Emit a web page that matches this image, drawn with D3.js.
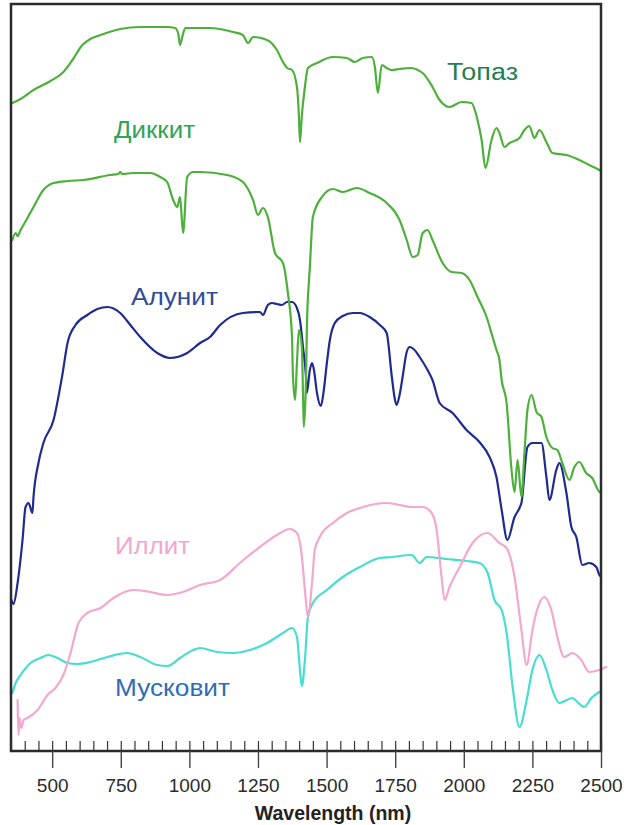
<!DOCTYPE html>
<html>
<head>
<meta charset="utf-8">
<script src="https://cdn.jsdelivr.net/npm/d3@7/dist/d3.min.js"></script>
<style>
  html, body { margin: 0; padding: 0; background: #fff; }
  svg { display: block; }
  text { font-family: "Liberation Sans", Arial, sans-serif; }
</style>
</head>
<body>
<svg id="chart" width="626" height="825"></svg>
<script>
// Reflectance spectra (stacked with offsets), wavelength in nm vs relative reflectance units
const topaz = [
  [355,129.4],[385,130.2],[432,132],[494,133.8],[541,135.6],[574,138],[610,141],[639,142.2],
  [676,143],[748,144.2],[821,144.6],[919,144.6],[948,144.4],[959,143.4],[966,141],[974,142.6],
  [985,144.4],[1075,144.4],[1159,143.6],[1195,143],[1214,141.4],[1232,142.6],[1283,142],
  [1319,140],[1341,137.6],[1356,136.4],[1374,136],[1392,132.6],[1399,127],[1403,121.6],
  [1410,127],[1421,132.6],[1432,136.4],[1465,137.4],[1523,138.6],[1574,138.4],[1603,137.6],
  [1632,138.4],[1665,138.6],[1676,136.6],[1687,131.4],[1701,137],[1719,136.4],[1737,136],
  [1766,136.2],[1803,136.4],[1850,135.4],[1886,132.6],[1912,130],[1948,128.6],[1992,129.6],
  [2028,129.4],[2050,126],[2065,122],[2079,116.4],[2101,122],[2119,124.4],[2130,123.4],
  [2148,120.6],[2167,121.4],[2203,122.4],[2221,124],[2239,124.8],[2257,122.4],[2276,124],
  [2301,121.6],[2323,119.4],[2374,119],[2421,118],[2457,117],[2494,116],[2500,115.8]
];

const dickite = [
  [355,102],[367,103.4],[374,102.8],[385,104],[410,106.4],[432,108.6],[468,112],[505,113.4],
  [556,113.8],[614,114],[712,115],[741,115.2],[748,115.6],[756,115.2],[796,115.4],[857,115.4],
  [894,114.6],[919,113.6],[941,110],[956,108.6],[966,110.6],[977,103.4],[992,114.6],[1014,115.6],
  [1039,115.6],[1137,115],[1195,113.6],[1232,110],[1250,107],[1268,108.4],[1286,106.6],
  [1312,99.4],[1341,97.4],[1359,91.4],[1374,82.6],[1377,75.4],[1385,70],[1392,77.4],[1399,84],
  [1410,80.6],[1414,71.4],[1417,64.6],[1425,74],[1428,84],[1436,94],[1439,96.6],[1450,106.6],
  [1483,110.6],[1523,112.2],[1559,111.6],[1610,112.4],[1657,111.4],[1719,109.4],[1766,106],
  [1792,102],[1814,98.6],[1832,99],[1850,103.4],[1868,104],[1886,102],[1923,97.4],[1955,95.6],
  [1992,95.4],[2021,94],[2050,90.6],[2083,86.6],[2105,82.6],[2119,80],[2130,78],[2138,74],
  [2156,69.4],[2174,56],[2185,51.6],[2196,58],[2210,50.6],[2221,59.4],[2232,68],[2247,71],
  [2265,67.6],[2283,66.6],[2301,62.6],[2323,60.4],[2341,60],[2359,57.4],[2385,54],[2403,56.6],
  [2421,57.6],[2446,55.4],[2468,54.4],[2494,51.6],[2500,51.4]
];

const alunite = [
  [352,30],[359,29.2],[374,33.4],[392,42],[403,48.6],[414,49.4],[428,47.4],[432,50.6],[450,57.4],
  [468,61.4],[505,66],[537,75],[556,81.4],[585,85],[628,87],[665,88.2],[701,88.6],[748,87.4],
  [785,85],[821,82.6],[883,79.4],[930,78.4],[992,79.4],[1039,81.4],[1075,82.6],[1112,85],
  [1195,87.4],[1257,87.6],[1268,87],[1286,89],[1301,89.4],[1319,89.2],[1337,89],[1356,89.6],
  [1374,89.6],[1392,88.4],[1403,86],[1414,80.6],[1425,74.6],[1428,71.4],[1439,76],[1447,77.4],
  [1454,76],[1465,71.4],[1479,68.8],[1490,72],[1501,77.4],[1512,82],[1530,85.4],[1559,86.8],
  [1596,87.4],[1621,87.4],[1657,86.6],[1694,85],[1719,83.4],[1737,75],[1748,70.4],[1755,69],
  [1766,71],[1777,74.6],[1792,79.6],[1803,80.6],[1817,80.2],[1839,78.6],[1868,76],[1886,74],
  [1912,69.4],[1959,67.4],[2010,64],[2057,61.6],[2094,58.6],[2119,54.6],[2138,48],[2159,42],
  [2185,46.6],[2203,48.4],[2210,49.4],[2232,60.6],[2250,61.4],[2283,61.4],[2301,54.6],
  [2312,50],[2337,56],[2348,57.4],[2374,51.4],[2392,44.6],[2410,42.6],[2432,37],[2457,37.4],
  [2483,36.6],[2494,35],[2500,34.6]
];

const illite = [
  [374,10],[377,3],[381,6.4],[388,4.4],[396,6],[410,6.4],[447,8],[483,11],[512,12.4],[541,15],
  [567,19.4],[596,25.4],[628,27.4],[676,28.4],[723,30.4],[796,32],[857,31.6],[919,31],
  [977,31.6],[1039,33],[1112,34],[1184,37.4],[1257,40.6],[1319,43],[1366,44.2],[1392,43.4],
  [1410,38.6],[1421,32],[1432,26.6],[1447,33.4],[1457,40],[1475,42.6],[1523,45.4],[1574,47.4],
  [1632,48.6],[1719,49.4],[1766,49],[1814,48.6],[1850,48.6],[1883,47.4],[1901,44],[1919,34.6],
  [1930,30],[1948,32.6],[1985,36.6],[2032,41.4],[2087,43.4],[2130,41.4],[2156,40.4],
  [2185,34.6],[2210,24],[2229,17],[2250,24],[2276,29.4],[2294,30.6],[2319,28],[2341,22.6],
  [2366,18.6],[2396,19.4],[2428,18],[2457,15.6],[2494,16],[2519,16.6]
];

const muscovite = [
  [355,11.4],[367,13.4],[385,15],[421,17.4],[457,18.4],[486,19],[519,18.4],[556,17.4],
  [592,17.2],[639,17.6],[701,18.6],[774,19.4],[821,18.6],[883,17],[919,16.8],[966,18.4],
  [1014,20],[1039,20.4],[1101,19.6],[1159,19.4],[1221,20],[1283,21.4],[1341,23.4],[1374,24.4],
  [1392,22.6],[1403,16],[1410,12.8],[1421,18],[1432,26.6],[1450,29.4],[1501,32],[1559,34.6],
  [1621,36.6],[1694,38.4],[1741,38.6],[1766,38.8],[1810,39],[1839,37.4],[1865,38.6],[1937,38.2],
  [2010,37.8],[2057,37.4],[2087,35.4],[2112,30],[2138,28],[2156,23.4],[2178,12.6],[2203,4.6],
  [2229,10],[2250,16],[2276,19],[2301,16],[2323,12],[2348,9.4],[2396,10.4],[2414,9.6],
  [2439,8.6],[2465,10.4],[2494,11.6]
];

const seriesNames = ["Топаз", "Диккит", "Алунит", "Иллит", "Мусковит"];
const majorTicks = [500, 750, 1000, 1250, 1500, 1750, 2000, 2250, 2500];
const minorTicks = d3.range(350, 2501, 50);
const xTitle = "Wavelength (nm)";

// Drawing styles and label placement
const series = [
  { name: seriesNames[0], data: topaz,     line: "#4cb03a", label: "#1f8050", lx: 447, ly: 80,  len: 71 },
  { name: seriesNames[1], data: dickite,   line: "#4cb03a", label: "#2fa556", lx: 114, ly: 138, len: 81 },
  { name: seriesNames[2], data: alunite,   line: "#1f2b8e", label: "#2f4b9c", lx: 131, ly: 305, len: 87 },
  { name: seriesNames[3], data: illite,    line: "#f3a8cf", label: "#f2a6d0", lx: 115, ly: 554, len: 75 },
  { name: seriesNames[4], data: muscovite, line: "#47ddd0", label: "#2f6db3", lx: 115, ly: 696, len: 115 }
];

const svg = d3.select("#chart");
const frame = { left: 11, top: 4, right: 601, bottom: 751 };

const x = d3.scaleLinear().domain([350, 2500]).range([frame.left, frame.right]);
const y = d3.scaleLinear().domain([0, 150]).range([750, 0]);

const line = d3.line()
  .x(d => x(d[0]))
  .y(d => y(d[1]))
  .curve(d3.curveMonotoneX);

// spectra
const curves = svg.append("g").attr("class", "curves");
series.slice().reverse().forEach(s => {
  curves.append("path")
    .datum(s.data)
    .attr("d", line)
    .attr("fill", "none")
    .attr("stroke", s.line)
    .attr("stroke-width", 2.2)
    .attr("stroke-linejoin", "round")
    .attr("stroke-linecap", "round");
});

// series labels
svg.append("g").selectAll("text")
  .data(series)
  .join("text")
  .attr("x", d => d.lx)
  .attr("y", d => d.ly)
  .attr("fill", d => d.label)
  .attr("font-size", 23)
  .attr("textLength", d => d.len)
  .attr("lengthAdjust", "spacingAndGlyphs")
  .text(d => d.name);

// frame
svg.append("rect")
  .attr("x", frame.left)
  .attr("y", frame.top)
  .attr("width", frame.right - frame.left)
  .attr("height", frame.bottom - frame.top)
  .attr("fill", "none")
  .attr("stroke", "#2b2b2b")
  .attr("stroke-width", 2.5);

// minor ticks inside the frame
const minorAxis = d3.axisBottom(x).tickValues(minorTicks).tickSize(-10).tickFormat("");
const gMinor = svg.append("g").attr("transform", `translate(0,${frame.bottom})`).call(minorAxis);
gMinor.select(".domain").remove();
gMinor.selectAll(".tick line").attr("stroke", "#333").attr("stroke-width", 1.2);

// major ticks and labels below the frame
const majorAxis = d3.axisBottom(x).tickValues(majorTicks).tickSize(17).tickPadding(11).tickFormat(d3.format("d"));
const gMajor = svg.append("g").attr("transform", `translate(0,${frame.bottom})`).call(majorAxis);
gMajor.select(".domain").remove();
gMajor.selectAll(".tick line").attr("stroke", "#444").attr("stroke-width", 1.4);
gMajor.selectAll(".tick text")
  .attr("fill", "#2b2b2b")
  .attr("font-size", 19)
  .attr("font-family", "'Liberation Sans', Arial, sans-serif");

// axis title
svg.append("text")
  .attr("x", 333)
  .attr("y", 820)
  .attr("text-anchor", "middle")
  .attr("font-size", 19.5)
  .attr("font-weight", "bold")
  .attr("fill", "#222")
  .text(xTitle);
</script>
</body>
</html>
